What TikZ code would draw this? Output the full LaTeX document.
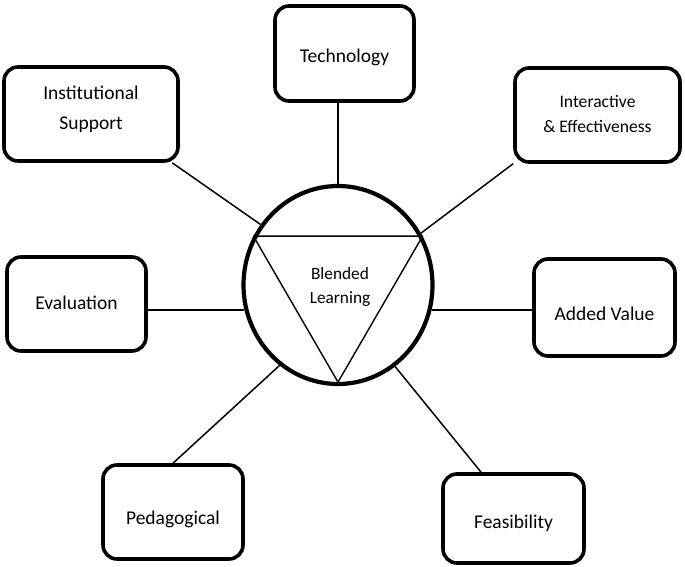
\documentclass[tikz,border=0pt]{standalone}
\usepackage{fontspec}
\setmainfont{Carlito}
\usetikzlibrary{shapes.geometric,calc,backgrounds}
\tikzset{
  factor/.style={draw, rounded corners=14pt, line width=3.6pt,
                 inner sep=0pt, fill=white},
  factortext/.style={align=center, inner sep=0pt, font=\fontsize{19.5}{30}\selectfont},
  smalltext/.style={factortext, font=\fontsize{17.6}{25}\selectfont},
  hubtext/.style={factortext, font=\fontsize{17.3}{24}\selectfont},
  hub/.style={draw, ellipse, line width=4.2pt, fill=white, inner sep=0pt,
              minimum width=189pt, minimum height=198pt},
  link/.style={line width=1.5pt},
  thinedge/.style={line width=1.4pt},
}

\begin{document}
\begin{tikzpicture}[x=1pt, y=-1pt]
\useasboundingbox (0,0) rectangle (685,567);

% ============================ centre ==================================
\node[hub, label={[hubtext, xshift=2pt, yshift=-2pt]center:Blended\\Learning}] (blend) at (338,285) {};
\draw[thinedge, line join=round] (blend.150) -- (blend.30) -- ($(blend.south)+(0,-4)$) -- cycle;

% ============================ factors =================================
\node[factor, minimum width=139pt, minimum height=95pt,
      label={[factortext, yshift=-4pt]center:Technology}] (tech) at (344.5,53.5) {};
\node[factor, minimum width=174pt, minimum height=94pt,
      label={[factortext, yshift=4.5pt]center:Institutional\\Support}] (inst) at (91,114) {};
\node[factor, minimum width=165pt, minimum height=94pt,
      label={[smalltext, yshift=1pt]center:Interactive\\\& Effectiveness}] (inter) at (597.5,115) {};
\node[factor, minimum width=139pt, minimum height=94pt,
      label={[factortext, yshift=1pt]center:Evaluation}] (eval) at (76.5,304) {};
\node[factor, minimum width=141pt, minimum height=97pt,
      label={[factortext, yshift=-6pt]center:Added Value}] (added) at (604.5,307.5) {};
\node[factor, minimum width=140pt, minimum height=94pt,
      label={[factortext, yshift=-7pt]center:Pedagogical}] (ped) at (173,512) {};
\node[factor, minimum width=141pt, minimum height=89pt,
      label={[factortext, yshift=-5pt]center:Feasibility}] (feas) at (513.5,518.5) {};

% spokes from the centre to every factor
\begin{scope}[on background layer]
  \draw[link] (blend.north) -- (blend.north |- tech.south);
  \draw[link] (blend.142) -- (inst.-31);
  \draw[link] (blend.32) -- (inter.210);
  \draw[link] (blend.195) -- (blend.195 -| eval.east);
  \draw[link] (blend.345) -- (blend.345 -| added.west);
  \draw[link] (blend.234) -- (ped.north);
  \draw[link] (blend.305) -- (feas.125);
\end{scope}

\end{tikzpicture}
\end{document}
